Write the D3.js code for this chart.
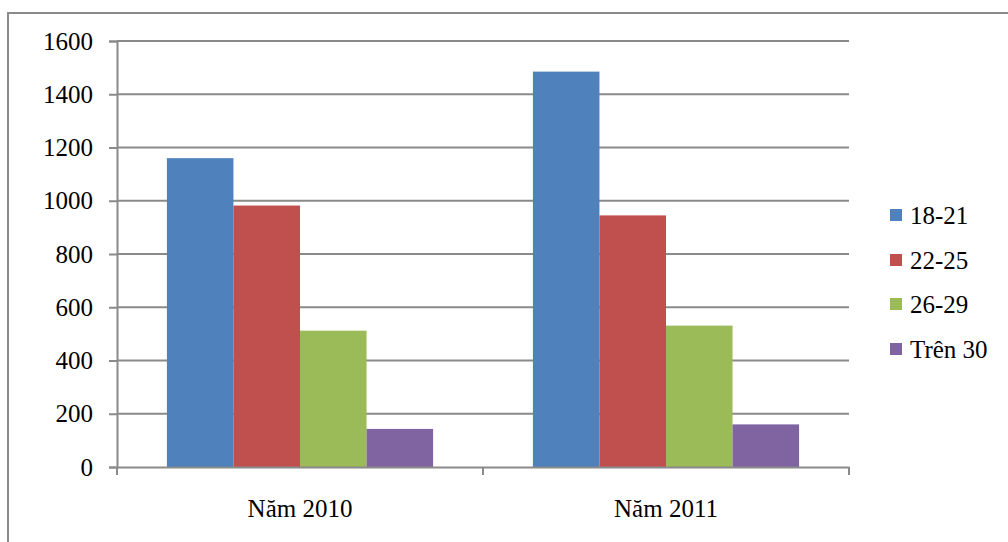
<!DOCTYPE html>
<html>
<head>
<meta charset="utf-8">
<script src="https://cdn.jsdelivr.net/npm/d3@7"></script>
<style>
  html, body { margin: 0; padding: 0; background: #fff; }
  svg { display: block; }
  svg text { font-family: 'Liberation Serif', 'Times New Roman', Times, 'DejaVu Serif', serif !important; fill: #000; }
</style>
</head>
<body>
<svg id="chart" width="1008" height="542"></svg>
<script>
// Data
const years = ["Năm 2010", "Năm 2011"];
const groups = ["18-21", "22-25", "26-29", "Trên 30"];
const values2010 = [1160, 982, 512, 143];
const values2011 = [1485, 945, 531, 160];
const yTicks = [0, 200, 400, 600, 800, 1000, 1200, 1400, 1600];
const colors = ["#4F81BD", "#C0504D", "#9BBB59", "#8064A2"];

const rows = years.map((y, i) => ({ year: y, values: [values2010, values2011][i] }));

const svg = d3.select("#chart");
const plot = { left: 117, right: 849, top: 41, bottom: 467 };
const gridColor = "#8a8a8a";
const fontSize = 25;

// Outer chart frame
svg.append("rect")
  .attr("x", 8).attr("y", 13)
  .attr("width", 1100).attr("height", 600)
  .attr("fill", "none").attr("stroke", "#8a8a8a").attr("stroke-width", 2);

const x0 = d3.scaleBand().domain(years).range([plot.left, plot.right]).paddingInner(0).paddingOuter(0);
// gap width of 150% of a bar on the category band
const x1 = d3.scaleBand().domain(groups).range([0, x0.bandwidth()]).paddingInner(0).paddingOuter(0.75);
const y = d3.scaleLinear().domain([0, 1600]).range([plot.bottom, plot.top]);

// Horizontal gridlines
svg.append("g").selectAll("line").data(yTicks.filter(t => t > 0)).join("line")
  .attr("x1", plot.left).attr("x2", plot.right)
  .attr("y1", d => y(d)).attr("y2", d => y(d))
  .attr("stroke", gridColor).attr("stroke-width", 2);

// Bars
svg.append("g").selectAll("g").data(rows).join("g")
  .attr("transform", d => `translate(${x0(d.year)},0)`)
  .selectAll("rect").data(d => d.values.map((v, i) => ({ key: groups[i], v, i })))
  .join("rect")
  .attr("x", d => x1(d.key))
  .attr("width", x1.bandwidth())
  .attr("y", d => y(d.v))
  .attr("height", d => y(0) - y(d.v))
  .attr("fill", d => colors[d.i]);

// Y axis
const yAxis = d3.axisLeft(y).tickValues(yTicks).tickSize(8).tickPadding(16).tickFormat(d3.format("d"));
const gy = svg.append("g").attr("transform", `translate(${plot.left},0)`).call(yAxis)
  .attr("font-family", null).attr("font-size", fontSize);
gy.select(".domain").attr("stroke", gridColor).attr("stroke-width", 2);
gy.selectAll(".tick line").attr("stroke", gridColor).attr("stroke-width", 2);
gy.selectAll(".tick text").attr("fill", "#000");

// X axis
const xAxis = d3.axisBottom(x0).tickSize(0).tickPadding(0);
const gx = svg.append("g").attr("transform", `translate(0,${plot.bottom})`).call(xAxis)
  .attr("font-family", null).attr("font-size", fontSize);
gx.select(".domain").attr("stroke", gridColor).attr("stroke-width", 2);
gx.selectAll(".tick text").attr("fill", "#000").attr("dy", 0).attr("y", 50);
// Category boundary ticks
gx.append("g").selectAll("line").data([plot.left, x0(years[1]), plot.right]).join("line")
  .attr("x1", d => d).attr("x2", d => d).attr("y1", 0).attr("y2", 8)
  .attr("stroke", gridColor).attr("stroke-width", 2);

// Legend
const legend = svg.append("g").attr("transform", "translate(890,0)");
const legY = [215, 260, 304, 349];
groups.forEach((g, i) => {
  legend.append("rect").attr("x", 0).attr("y", legY[i] - 6).attr("width", 12).attr("height", 12)
    .attr("fill", colors[i]);
  legend.append("text").attr("x", 20).attr("y", legY[i]).attr("dy", "0.35em")
    .attr("font-size", fontSize).text(g);
});
</script>
</body>
</html>
